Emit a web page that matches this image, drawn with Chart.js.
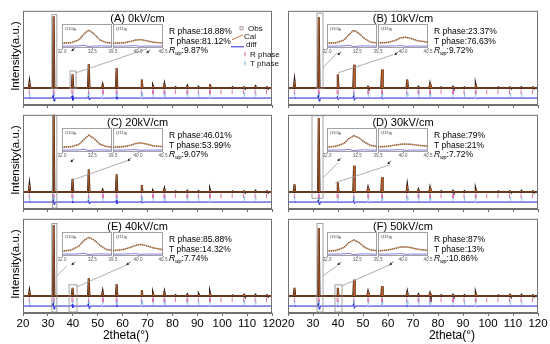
<!DOCTYPE html>
<html>
<head>
<meta charset="utf-8">
<script src="https://cdn.jsdelivr.net/npm/chart.js@4/dist/chart.umd.min.js"></script>
<style>
  body { margin: 0; background: #fff; }
  #wrap { position: relative; width: 550px; height: 344px; overflow: hidden; font-family: "Liberation Sans", Arial, sans-serif; }
  canvas { position: absolute; }
  .ylab { position: absolute; width: 100px; text-align: center; font-size: 11.5px; transform: rotate(-90deg); transform-origin: center; }
  .xlab { position: absolute; width: 100px; text-align: center; font-size: 12px; }
</style>
</head>
<body>
<div id="wrap"></div>
<script>
// peak positions (2theta) and heights
const twoTheta = [22.6, 32.3, 39.9, 46.4, 52.0, 57.6, 67.7, 72.2, 76.8, 81.3, 86.0, 90.6, 95.1, 104.2, 108.8, 113.4, 118.0];
const peaksA = [7.5, 93, 17.6, 31, 4, 26, 11, 2.5, 5, 1, 2.5, 1, 5, 1, 1, 2, 1];
const peaksB = [9, 92, 17.6, 30, 1.5, 24, 11, 1.5, 5, 0.8, 1.5, 0.8, 4, 0.8, 0.8, 1, 0.8];
const peaksC = [9, 110, 17, 29, 2.5, 23, 9, 1.5, 4, 0.8, 1.5, 0.8, 3, 0.8, 1, 1.5, 1];
const peaksD = [10, 96, 12.5, 34, 5, 19, 8, 3, 5, 1, 1.5, 1, 3.5, 0.8, 1, 1.5, 1];
const peaksE = [6, 92, 10.5, 23, 5.5, 15.5, 7.5, 3.4, 5, 1, 2, 2, 4, 0.8, 1.5, 1.5, 1];
const peaksF = [10.5, 88, 10.5, 21, 5, 12.6, 5, 2, 3.4, 1, 1.5, 1, 3.4, 0.8, 1.5, 1.5, 1];
// difference curve spikes at the same positions
const diffA = [0.5, 4, 3, 2, 0.5, 1.5, 0.5, 0, 0, 0, 0, 0, 0.5, 0, 0, 0, 0];
const diffB = [0.5, 4, 2, 3, 0, 1.5, 0.5, 0, 0, 0, 0, 0, 0.5, 0, 0, 0, 0];
const diffC = [0.5, 3, 1, 2, 0, 2, 1.5, 0, 0.5, 0, 0, 0, 0.5, 0, 0, 0, 0];
const diffD = [0.5, 3, 1, 2, 0.5, 1, 0.5, 0, 0, 0, 0, 0, 0.5, 0, 0, 0, 0];
const diffE = [0.5, 4, 2, 3, 0.5, 1, 0.5, 0, 0, 0, 0, 0, 0.5, 0, 0, 0, 0];
const diffF = [0.5, 4, 1, 3, 0.5, 1, 1, 0, 0, 0, 0, 0, 0.5, 0, 0, 0, 0];
// reflection markers
const rPhaseTicks = [22.5, 32.1, 32.5, 39.6, 40.1, 46.3, 51.9, 52.3, 57.4, 57.8, 67.5, 72.0, 72.4, 76.6, 77.0, 81.2, 85.8, 86.2, 90.4, 94.9, 95.3, 99.5, 104.0, 108.6, 113.2, 117.8];
const tPhaseTicks = [22.7, 32.3, 32.5, 40.0, 46.2, 46.6, 52.1, 57.5, 57.9, 67.6, 68.0, 72.3, 76.7, 77.1, 86.0, 90.6, 95.1, 108.9, 113.5];
const xTicks = [20, 30, 40, 50, 60, 70, 80, 90, 100, 110, 120];

const titles = ["(A) 0kV/cm", "(B) 10kV/cm", "(C) 20kV/cm", "(D) 30kV/cm", "(E) 40kV/cm", "(F) 50kV/cm"];
const rPhase = ["18.88%", "23.37%", "46.01%", "79%", "85.88%", "87%"];
const tPhase = ["81.12%", "76.63%", "53.99%", "21%", "14.32%", "13%"];
const rwp = ["9.87%", "9.72%", "9.07%", "7.72%", "7.74%", "10.86%"];

// insets: (110)R and (111)R peak profiles
const inset1X = [32.0, 32.15, 32.28, 32.36, 32.44, 32.52, 32.62, 32.72, 32.85];
const inset1A = [20, 22, 34, 58, 75, 60, 34, 23, 20];
const inset1B = [20, 22, 33, 56, 74, 62, 38, 24, 21];
const inset1C = [20, 22, 32, 52, 70, 57, 33, 23, 20];
const inset1D = [20, 24, 36, 56, 68, 60, 40, 27, 22];
const inset1E = [20, 25, 42, 65, 78, 68, 45, 28, 22];
const inset1F = [20, 23, 36, 56, 67, 57, 36, 25, 21];
const inset1Diff = [8, 8, 9, 11, 6, 8, 9, 8, 8];
const inset2X = [39.5, 39.7, 39.85, 39.95, 40.05, 40.15, 40.3, 40.5];
const inset2A = [20, 21, 27, 33, 35, 31, 24, 21];
const inset2B = [21, 23, 32, 42, 45, 40, 30, 24];
const inset2C = [20, 22, 28, 35, 38, 34, 26, 22];
const inset2D = [21, 24, 29, 32, 33, 32, 28, 24];
const inset2E = [22, 27, 36, 44, 48, 44, 34, 26];
const inset2F = [21, 25, 32, 37, 38, 35, 28, 23];
const inset2Diff = [8, 8, 9, 10, 7, 8, 8, 8];
const inset1Ticks = [32.0, 32.5];
const inset2Ticks = [39.5, 40.0, 40.5];

const peaks = [peaksA, peaksB, peaksC, peaksD, peaksE, peaksF];
const diffs = [diffA, diffB, diffC, diffD, diffE, diffF];
const ins1 = [inset1A, inset1B, inset1C, inset1D, inset1E, inset1F];
const ins2 = [inset2A, inset2B, inset2C, inset2D, inset2E, inset2F];

const FONT = '"Liberation Sans", Arial, sans-serif';
const wrap = document.getElementById('wrap');

// panel plot areas
const cols = [{ x: 23, w: 249 }, { x: 288, w: 250 }];
const rows = [{ y: 8, h: 97 }, { y: 112, h: 97 }, { y: 216, h: 97 }];

// decorations: boxes around peaks (data coords), connector lines and arrows (px from plot corner)
const decoLayout = [
  { rects: [[31.6, 33.6, -1, 95], [38.9, 41.3, -1, 22]], lines: [[53, 62, 124, 38]], arrows: [[49, 40], [124, 42]] },
  { rects: [[31.6, 34.0, -1, 97]], lines: [[35, 57, 49, 42], [50, 62, 105, 44]], arrows: [[50, 44], [107, 44]] },
  { rects: [[31.8, 33.6, -22, 100]], lines: [[50, 65, 104, 46]], arrows: [[48, 47], [105, 46]] },
  { rects: [[29.6, 34.0, -8, 100]], lines: [[35, 63, 50, 48], [47, 68, 102, 50]], arrows: [[50, 46], [100, 49]] },
  { rects: [[31.6, 33.6, -22, 94], [38.5, 41.7, -22, 14.5]], lines: [[34, 57, 44, 47], [54, 68, 104, 46]], arrows: [[49, 46], [104, 46]] },
  { rects: [[31.6, 34.0, -22, 94], [38.8, 41.6, -22, 14.5]], lines: [[35, 57, 49, 47], [54, 67, 102, 46]], arrows: [[50, 46], [102, 46]] }
];

function peakLine(heights) {
  const pts = [{ x: 20, y: 0 }];
  twoTheta.forEach((p, i) => {
    pts.push({ x: p - 0.3, y: 0 }, { x: p, y: heights[i] }, { x: p + 0.3, y: 0 });
  });
  pts.push({ x: 120, y: 0 });
  return pts;
}
function diffLine(amps) {
  const base = -13;
  const pts = [{ x: 20, y: base }];
  twoTheta.forEach((p, i) => {
    if (!amps[i]) return;
    pts.push({ x: p - 0.5, y: base }, { x: p - 0.15, y: base + amps[i] }, { x: p + 0.15, y: base - amps[i] }, { x: p + 0.5, y: base });
  });
  pts.push({ x: 120, y: base });
  return pts;
}

function arrow(ctx, x, y) {
  ctx.beginPath();
  ctx.moveTo(x + 3, y - 3); ctx.lineTo(x, y); ctx.stroke();
  ctx.beginPath();
  ctx.moveTo(x - 0.5, y + 0.5); ctx.lineTo(x + 2.2, y - 0.2); ctx.lineTo(x + 0.2, y - 2.2); ctx.closePath(); ctx.fill();
}

const decor = {
  id: 'decor',
  afterDraw(chart, args, o) {
    const { ctx, chartArea: a, scales: { x, y } } = chart;
    ctx.save();
    ctx.strokeStyle = '#707070'; ctx.lineWidth = 1;
    ctx.strokeRect(a.left + 0.5, a.top + 0.5, a.width - 1, a.height - 1);
    ctx.strokeStyle = '#8c8c8c'; ctx.lineWidth = 0.8;
    o.rects.forEach(r => {
      const x0 = x.getPixelForValue(r[0]), x1 = x.getPixelForValue(r[1]);
      const y0 = Math.max(a.top + 1, y.getPixelForValue(r[3])), y1 = Math.min(a.bottom - 1, y.getPixelForValue(r[2]));
      ctx.strokeRect(x0, y0, x1 - x0, y1 - y0);
    });
    ctx.strokeStyle = '#9a9a9a';
    o.lines.forEach(l => {
      ctx.beginPath(); ctx.moveTo(a.left + l[0], a.top + l[1]); ctx.lineTo(a.left + l[2], a.top + l[3]); ctx.stroke();
    });
    ctx.strokeStyle = '#222'; ctx.fillStyle = '#222'; ctx.lineWidth = 0.8;
    o.arrows.forEach(p => arrow(ctx, a.left + p[0], a.top + p[1]));

    ctx.fillStyle = '#000';
    ctx.textBaseline = 'middle';
    ctx.textAlign = 'center';
    ctx.font = '11px ' + FONT;
    ctx.fillText(o.title, a.left + a.width * 0.46, a.top + 8);
    ctx.textAlign = 'left';
    const sx = a.left + 146;
    ctx.font = '8.5px ' + FONT;
    ctx.fillText('R phase:' + o.r, sx, a.top + 21);
    ctx.fillText('T phase:' + o.t, sx, a.top + 30.5);
    ctx.font = 'italic 8.5px ' + FONT;
    ctx.fillText('R', sx, a.top + 40);
    let w = ctx.measureText('R').width;
    ctx.font = 'italic 5px ' + FONT;
    ctx.fillText('wp', sx + w, a.top + 42.5);
    w += ctx.measureText('wp').width;
    ctx.font = '8.5px ' + FONT;
    ctx.fillText(':' + o.rwp, sx + w, a.top + 40);

    if (o.legend) {
      const lx = a.left + 224;
      ctx.font = '8px ' + FONT;
      ctx.fillStyle = '#111';
      ctx.fillText('Obs', lx + 1, a.top + 18);
      ctx.fillText('Cal', lx - 3, a.top + 26);
      ctx.fillText('diff', lx - 1, a.top + 34);
      ctx.fillText('R phase', lx + 3, a.top + 43.5);
      ctx.fillText('T phase', lx + 3, a.top + 52.5);
      ctx.strokeStyle = '#b09aa0'; ctx.lineWidth = 1;
      ctx.strokeRect(lx - 7, a.top + 16, 3, 3);
      ctx.strokeStyle = '#c8743a'; ctx.lineWidth = 1;
      ctx.beginPath(); ctx.moveTo(lx - 15, a.top + 29); ctx.lineTo(lx - 4, a.top + 24); ctx.stroke();
      ctx.strokeStyle = '#2a2ad6';
      ctx.beginPath(); ctx.moveTo(lx - 16, a.top + 36); ctx.lineTo(lx - 3, a.top + 36); ctx.stroke();
      ctx.strokeStyle = '#d2509c';
      ctx.beginPath(); ctx.moveTo(lx - 2, a.top + 41.5); ctx.lineTo(lx - 2, a.top + 45.5); ctx.stroke();
      ctx.strokeStyle = '#5ab4e6';
      ctx.beginPath(); ctx.moveTo(lx - 2, a.top + 50.5); ctx.lineTo(lx - 2, a.top + 54.5); ctx.stroke();
    }
    ctx.restore();
  }
};

function makeCanvas(left, top, w, h) {
  const cv = document.createElement('canvas');
  cv.width = w; cv.height = h;
  cv.style.left = left + 'px'; cv.style.top = top + 'px';
  cv.style.width = w + 'px'; cv.style.height = h + 'px';
  wrap.appendChild(cv);
  return cv;
}

function mainChart(i) {
  const c = cols[i % 2], r = rows[Math.floor(i / 2)];
  const bottomRow = i >= 4;
  const padL = 14, padR = 14, padT = 2, axisH = bottomRow ? 22 : 6;
  const cv = makeCanvas(c.x - padL, r.y - padT, c.w + padL + padR, r.h + padT + axisH);
  const tickSet = (color, rows) => ({
    data: rows.map(v => ({ x: v, y: color === 'r' ? -5 : -8.5 })),
    showLine: false, pointStyle: 'line', rotation: 90, pointRadius: 2.2,
    borderColor: color === 'r' ? '#d2509c' : '#5ab4e6', borderWidth: 0.8
  });
  new Chart(cv, {
    type: 'line',
    data: {
      datasets: [
        { label: 'Cal', data: peakLine(peaks[i]), borderColor: '#c0642e', borderWidth: 0.8, pointRadius: 0 },
        { label: 'Obs', data: peakLine(peaks[i]), borderColor: '#2e1c12', borderWidth: 2, pointRadius: 0 },
        { label: 'diff', data: diffLine(diffs[i]), borderColor: '#2323d8', borderWidth: 1, pointRadius: 0 },
        Object.assign({ label: 'R phase' }, tickSet('r', rPhaseTicks)),
        Object.assign({ label: 'T phase' }, tickSet('t', tPhaseTicks))
      ]
    },
    options: {
      responsive: false, animation: false, events: [],
      layout: { padding: { left: padL, right: padR, top: padT, bottom: 0 } },
      scales: {
        x: {
          type: 'linear', min: 20, max: 120,
          afterFit: s => { s.height = axisH; s.paddingLeft = 0; s.paddingRight = 0; },
          afterBuildTicks: s => { s.ticks = xTicks.map(v => ({ value: v })); },
          ticks: { display: bottomRow, autoSkip: false, maxRotation: 0, color: '#000', padding: 1, font: { size: 11.5, family: FONT } },
          grid: { drawOnChartArea: false, tickLength: 3, color: '#707070' },
          border: { color: '#707070' }
        },
        y: { display: false, min: -22, max: 100 }
      },
      plugins: {
        legend: { display: false }, tooltip: { enabled: false },
        decor: Object.assign({ title: titles[i], r: rPhase[i], t: tPhase[i], rwp: rwp[i], legend: i === 0 }, decoLayout[i])
      }
    },
    plugins: [decor]
  });

  // insets
  const iy = r.y + 16, ih = 24;
  insetChart(c.x + 39, iy, 50, ih, inset1X, ins1[i], inset1Diff, inset1Ticks, [32.0, 32.82], '(110)');
  insetChart(c.x + 90, iy, 50, ih, inset2X, ins2[i], inset2Diff, inset2Ticks, [39.5, 40.5], '(111)');
}

const insetDecor = {
  id: 'insetDecor',
  beforeDraw(chart) {
    const { ctx, chartArea: a } = chart;
    ctx.save(); ctx.fillStyle = '#fff'; ctx.fillRect(a.left, a.top, a.width, a.height); ctx.restore();
  },
  afterDraw(chart, args, o) {
    const { ctx, chartArea: a } = chart;
    ctx.save();
    ctx.strokeStyle = '#8a8a8a'; ctx.lineWidth = 0.8;
    ctx.strokeRect(a.left + 0.5, a.top + 0.5, a.width - 1, a.height - 1);
    ctx.fillStyle = '#444'; ctx.textBaseline = 'middle';
    ctx.font = '4px ' + FONT;
    ctx.fillText(o.label, a.left + 3, a.top + 5);
    const w = ctx.measureText(o.label).width;
    ctx.font = '3px ' + FONT;
    ctx.fillText('R', a.left + 3 + w, a.top + 6.5);
    ctx.restore();
  }
};

function insetChart(x, y, w, h, xs, ys, dys, ticks, range, label) {
  const padL = 6, padR = 6, padT = 1, axisH = 7;
  const cv = makeCanvas(x - padL, y - padT, w + padL + padR, h + padT + axisH);
  const pts = ys.map((v, k) => ({ x: xs[k], y: v }));
  new Chart(cv, {
    type: 'line',
    data: {
      datasets: [
        { label: 'Cal', data: pts, borderColor: '#c8743a', borderWidth: 0.8, pointRadius: 0 },
        { label: 'Obs', data: pts, borderColor: '#4a3a30', borderWidth: 1.5, pointRadius: 0, borderDash: [1, 1] },
        { label: 'diff', data: dys.map((v, k) => ({ x: xs[k], y: v })), borderColor: '#6a5ad8', borderWidth: 0.8, pointRadius: 0 }
      ]
    },
    options: {
      responsive: false, animation: false, events: [],
      layout: { padding: { left: padL, right: padR, top: padT, bottom: 0 } },
      scales: {
        x: {
          type: 'linear', min: range[0], max: range[1],
          afterFit: s => { s.height = axisH; s.paddingLeft = 0; s.paddingRight = 0; },
          afterBuildTicks: s => { s.ticks = ticks.map(v => ({ value: v })); },
          ticks: { autoSkip: false, maxRotation: 0, color: '#555', padding: 0, font: { size: 4.5, family: FONT }, callback: v => v.toFixed(1) },
          grid: { drawOnChartArea: false, tickLength: 1, color: '#888' },
          border: { display: false }
        },
        y: { display: false, min: 0, max: 100 }
      },
      plugins: { legend: { display: false }, tooltip: { enabled: false }, insetDecor: { label: label } }
    },
    plugins: [insetDecor]
  });
}

for (let i = 0; i < 6; i++) mainChart(i);

// axis titles
rows.forEach(r => {
  const d = document.createElement('div');
  d.className = 'ylab';
  d.textContent = 'Intensity(a.u.)';
  d.style.left = (15 - 50) + 'px';
  d.style.top = (r.y + r.h / 2 - 7) + 'px';
  wrap.appendChild(d);
});
[126, 452].forEach(cx => {
  const d = document.createElement('div');
  d.className = 'xlab';
  d.textContent = '2theta(°)';
  d.style.left = (cx - 50) + 'px';
  d.style.top = '328px';
  wrap.appendChild(d);
});
</script>
</body>
</html>
